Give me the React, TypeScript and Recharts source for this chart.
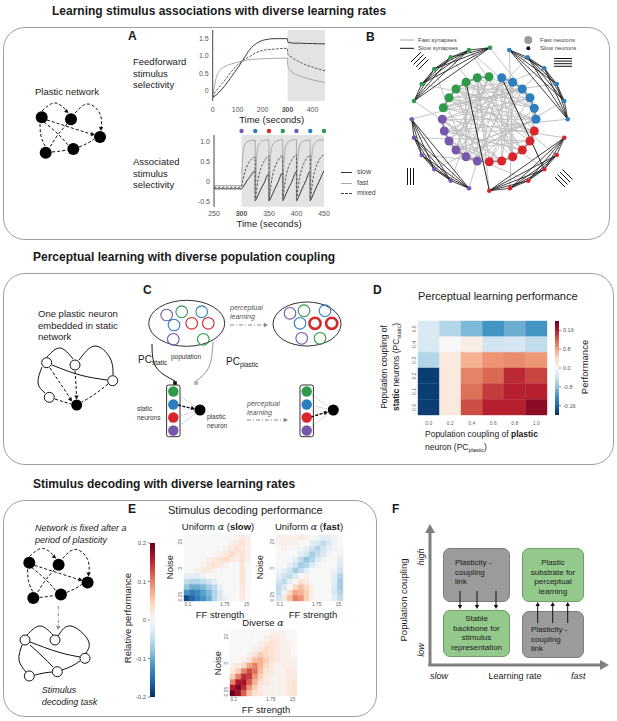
import React from 'react';
import {
  LineChart,
  Line,
  XAxis,
  YAxis,
  ReferenceArea,
  ReferenceDot,
  ReferenceLine,
  ComposedChart,
  Scatter,
} from 'recharts';

const FONT = '"Liberation Sans", Arial, Helvetica, sans-serif';

// ---- Panel A (top): feedforward stimulus selectivity ----
const ffTime = [0, 10, 25, 50, 75, 100, 120, 150, 175, 200, 250, 299, 301, 310, 325, 350, 375, 400, 425, 450];
const ffSlow = [-0.2, -0.15, -0.05, 0.15, 0.4, 0.65, 0.87, 1.2, 1.36, 1.45, 1.5, 1.5, 1.4, 1.38, 1.37, 1.37, 1.36, 1.36, 1.35, 1.35];
const ffFast = [-0.2, 0.25, 0.55, 0.7, 0.77, 0.82, 0.86, 0.9, 0.91, 0.92, 0.93, 0.94, 0.72, 0.6, 0.5, 0.42, 0.36, 0.31, 0.27, 0.24];
const ffMixed = [-0.2, -0.05, 0.1, 0.31, 0.55, 0.75, 0.87, 0.99, 1.1, 1.16, 1.2, 1.22, 1.05, 1.0, 0.92, 0.82, 0.74, 0.68, 0.62, 0.57];

// ---- Panel A (bottom): associated stimulus selectivity ----
const asTime = [
  250, 275,
  300, 302, 305, 310, 316, 324.9,
  325, 327, 330, 335, 341, 349.9,
  350, 352, 355, 360, 366, 374.9,
  375, 377, 380, 385, 391, 399.9,
  400, 402, 405, 410, 416, 424.9,
  425, 427, 430, 435, 441, 450,
];
const asFast = [
  -0.1, -0.1,
  -0.1, 0.55, 0.88, 0.98, 1.01, 1.02,
  -0.47, 0.45, 0.86, 0.98, 1.02, 1.03,
  -0.48, 0.46, 0.85, 0.97, 1.01, 1.03,
  -0.47, 0.44, 0.86, 0.98, 1.02, 1.04,
  -0.48, 0.45, 0.85, 0.98, 1.01, 1.03,
  -0.47, 0.46, 0.86, 0.97, 1.02, 1.03,
];
const asMixed = [
  -0.14, -0.14,
  -0.14, 0.0, 0.18, 0.38, 0.52, 0.6,
  -0.47, -0.26, 0.04, 0.32, 0.5, 0.63,
  -0.48, -0.25, 0.05, 0.33, 0.51, 0.64,
  -0.47, -0.24, 0.06, 0.34, 0.52, 0.66,
  -0.48, -0.25, 0.05, 0.33, 0.52, 0.65,
  -0.47, -0.24, 0.06, 0.34, 0.53, 0.67,
];
const asSlow = [
  -0.18, -0.18,
  -0.18, -0.15, -0.09, 0.02, 0.13, 0.27,
  -0.47, -0.43, -0.34, -0.19, -0.04, 0.2,
  -0.48, -0.44, -0.35, -0.2, -0.03, 0.22,
  -0.47, -0.43, -0.33, -0.18, -0.02, 0.24,
  -0.48, -0.44, -0.34, -0.18, -0.01, 0.25,
  -0.47, -0.43, -0.33, -0.17, 0.0, 0.27,
];
const stimOnsets = [300, 325, 350, 375, 400, 425, 450];
const stimGroups = ['purple', 'blue', 'red', 'green', 'purple', 'blue', 'green'];

// ---- Panel D: perceptual learning performance (rows: PC_static 0.5 -> 0.0) ----
const pcPlasticLabels = ['0.0', '0.2', '0.4', '0.6', '0.8', '1.0'];
const pcStaticLabels = ['0.0', '0.1', '0.2', '0.3', '0.4', '0.5'];
const perfGrid = [
  [-0.03, -0.06, -0.09, -0.12, -0.1, -0.12],
  [-0.03, 0.0, 0.015, -0.04, -0.035, -0.05],
  [-0.06, 0.02, 0.07, 0.09, 0.095, 0.088],
  [-0.19, 0.02, 0.1, 0.115, 0.15, 0.135],
  [-0.19, 0.02, 0.11, 0.14, 0.155, 0.155],
  [-0.19, 0.02, 0.13, 0.155, 0.155, 0.18],
];
const perfTicks = [0.16, 0.08, 0, -0.08, -0.16];
const perfTickLabels = ['0.16', '0.8', '0.0', '-0.8', '-0.16'];

// ---- Panel E: relative decoding performance (rows: noise 20 -> 0.25, cols: FF 0.1 -> 15) ----
const decodeSlow = [
  [0, 0, 0, 0, 0, 0, 0, 0, 0, 0.01, 0.02, 0.01],
  [0, 0, 0, 0, 0, 0, 0, 0, 0.01, 0.02, 0.03, 0.01],
  [0, 0, 0, 0, 0, 0, 0, 0.01, 0.02, 0.03, 0.02, 0.01],
  [0, 0, 0, 0, 0, 0, 0.01, 0.02, 0.04, 0.02, 0.03, 0.01],
  [0, 0, 0, 0, 0.01, 0.02, 0.03, 0.04, 0.02, 0.01, 0.03, 0.01],
  [0, 0, 0, 0.01, 0.02, 0.03, 0.02, 0.01, 0, 0, 0.03, 0],
  [0, 0, 0.01, 0.02, 0.02, 0.01, 0, 0, 0, 0, 0.03, 0],
  [-0.02, -0.02, -0.02, -0.01, 0, 0, 0, 0, 0, 0, 0.03, 0],
  [-0.05, -0.06, -0.06, -0.05, -0.04, -0.02, 0, 0, 0, 0, 0.03, 0],
  [-0.08, -0.1, -0.1, -0.09, -0.07, -0.05, -0.02, 0, 0, 0, 0.02, 0],
  [-0.12, -0.14, -0.13, -0.11, -0.09, -0.06, -0.03, 0, 0, 0, 0.02, 0],
  [-0.18, -0.16, -0.14, -0.12, -0.1, -0.06, -0.03, -0.01, 0, 0, 0.02, 0],
];
const decodeFast = [
  [0.01, 0.01, 0.01, 0.01, 0.02, 0.01, 0, -0.01, -0.02, -0.02, -0.01, 0],
  [0.01, 0.01, 0.01, 0.01, 0, 0, -0.02, -0.03, -0.05, -0.03, -0.01, 0],
  [0, 0.01, 0, 0, 0, -0.02, -0.04, -0.06, -0.04, -0.02, -0.01, 0],
  [0, 0, 0, 0, -0.02, -0.04, -0.07, -0.05, -0.03, -0.01, 0, -0.01],
  [0, 0, 0, -0.02, -0.05, -0.08, -0.06, -0.03, -0.01, 0, 0, -0.02],
  [0, 0, -0.02, -0.04, -0.07, -0.06, -0.03, -0.01, 0, 0, 0, -0.03],
  [-0.01, -0.02, -0.04, -0.07, -0.05, -0.02, 0, 0, 0, 0, -0.01, -0.04],
  [-0.02, -0.04, -0.05, -0.03, 0, 0.01, 0, 0, 0, 0, -0.02, -0.06],
  [-0.04, -0.05, -0.02, 0, 0.03, 0.02, 0, 0, 0, 0, -0.02, -0.07],
  [-0.05, -0.03, 0, 0.04, 0.06, 0.04, 0.01, 0, 0, 0, -0.03, -0.07],
  [-0.05, -0.01, 0.04, 0.08, 0.07, 0.05, 0.01, 0, 0, 0, -0.03, -0.06],
  [-0.04, 0.02, 0.06, 0.1, 0.09, 0.05, 0.01, 0, 0, 0, -0.02, -0.05],
];
const decodeDiverse = [
  [0, 0, 0, 0, 0, 0, 0, 0.01, 0.01, 0.01, 0, 0],
  [0, 0, 0, 0, 0, 0, 0.01, 0.02, 0.02, 0.01, 0, 0],
  [0, 0, 0, 0, 0, 0.01, 0.02, 0.03, 0.02, 0.01, 0.01, 0],
  [0, 0, 0, 0, 0.01, 0.02, 0.04, 0.03, 0.02, 0.01, 0.01, 0],
  [0, 0, 0, 0.01, 0.03, 0.05, 0.04, 0.03, 0.02, 0.01, 0.01, 0],
  [0, 0, 0.01, 0.03, 0.06, 0.07, 0.05, 0.03, 0.02, 0.01, 0.01, 0.01],
  [0.01, 0.02, 0.04, 0.08, 0.1, 0.07, 0.04, 0.02, 0.01, 0.01, 0.01, 0.01],
  [0.02, 0.05, 0.1, 0.13, 0.11, 0.06, 0.03, 0.02, 0.01, 0.01, 0.02, 0.02],
  [0.05, 0.1, 0.15, 0.14, 0.09, 0.05, 0.02, 0.01, 0.01, 0.01, 0.02, 0.02],
  [0.1, 0.16, 0.17, 0.12, 0.07, 0.03, 0.02, 0.01, 0.01, 0.01, 0.02, 0.03],
  [0.16, 0.19, 0.15, 0.09, 0.05, 0.02, 0.01, 0.01, 0.01, 0.01, 0.02, 0.03],
  [0.2, 0.17, 0.12, 0.06, 0.03, 0.02, 0.01, 0.01, 0.01, 0.01, 0.02, 0.03],
];
const ffTicks = [0.7, 7.3, 11.2];
const ffLabels = ['0.1', '1.75', '15'];
const noiseTicks = [0.8, 5.95, 10.8];
const noiseLabels = ['0.25', '3', '20'];
const relTicks = [0.2, 0.1, 0, -0.1, -0.2];
const relLabels = ['0.2', '0.1', '0', '-0.1', '-0.2'];

// ---- Schematic layouts (page pixels) ----
const netA: [number, number][] = [[41.7, 117.3], [71, 119.3], [100, 137], [45.7, 152.7], [73.3, 149]];
const netAEdges: [number, number][][] = [
  [[42, 111], [55, 103], [68, 112]],
  [[75, 113], [88, 104], [100, 114], [101, 130]],
  [[47, 120], [72, 128], [94, 135]],
  [[44, 122], [58, 134], [68, 145]],
  [[40, 124], [41, 136], [45, 146]],
  [[67, 124], [57, 136], [50, 147]],
  [[52, 152], [61, 151], [67, 150]],
  [[79, 147], [88, 143], [94, 139]],
];
const netC: [number, number][] = [[46.7, 362.7], [75, 365], [112.7, 380.7], [49.3, 397.3]];
const netCPlastic: [number, number] = [76.7, 405];
const netCSolid: [number, number][][] = [
  [[47, 357], [60, 348], [73, 359]],
  [[79, 360], [95, 346], [110, 358], [113, 375]],
  [[52, 365], [80, 375], [107, 380]],
  [[42, 367], [38, 383], [45, 393]],
];
const netCDashed: [number, number][][] = [
  [[50, 368], [62, 386], [72, 401]],
  [[75, 371], [76, 385], [76.5, 399]],
  [[108, 384], [95, 394], [82, 402]],
  [[55, 399], [64, 402], [71, 404]],
];
const netEOpen: [number, number][] = [[25, 640], [55, 640], [85, 658.3], [29.3, 676], [57.3, 671.7]];
const netEOpenEdges: [number, number][][] = [
  [[27, 635], [40, 626], [53, 635]],
  [[58, 636], [71, 626], [88, 640], [86, 653]],
  [[30, 645], [42, 656], [53, 667]],
  [[22, 645], [19, 660], [26, 672]],
  [[35, 675], [44, 673], [52, 672]],
  [[62, 670], [72, 666], [80, 661]],
  [[30, 642], [58, 652], [80, 657]],
];
const eShift: [number, number] = [-12.4, 445.4];

// network B
const groupColor: Record<string, string> = { green: '#2e9b4b', blue: '#2b7fc0', red: '#d8262b', purple: '#7858ad' };
const bOuter: Record<string, [number, number][]> = {
  green: [[490, 47.7], [469, 50], [450.7, 57.3], [434.3, 69], [421.7, 84], [414, 101]],
  blue: [[509.3, 50], [527.7, 57.3], [544.3, 68.3], [556.7, 84], [564.3, 101], [567.7, 119.3]],
  red: [[564.3, 137.7], [556.7, 155], [544.3, 169.3], [528.3, 180.7], [510, 188.3], [489.3, 190.7]],
  purple: [[411.7, 119.3], [414, 137.7], [421.7, 155], [434.3, 169.3], [450.7, 180.7], [469, 188.3]],
};
const bInner: Record<string, [number, number][]> = {
  green: [[489, 76.7], [477.3, 77.7], [466, 82.3], [456, 89], [449, 97.7], [443.3, 107.7]],
  blue: [[501.7, 77.7], [512.7, 82.3], [522.3, 89], [530, 97.7], [534.3, 108.3], [536, 119.3]],
  red: [[534.3, 131], [530, 141], [522.3, 150], [512.7, 156.7], [501.7, 161], [489.3, 161.7]],
  purple: [[442.3, 119.3], [444.3, 131], [449, 141], [456, 150], [466, 156.7], [477.3, 161]],
};
const bGrayEdges = (
  'g0-r3 g1-p5 g2-b4 g3-r1 g4-b3 g5-r0 g5-b5 g1-r5 g0-p3 g3-b1 b0-p4 b1-p2 b2-r5 b3-p0 b4-p5 b5-g4 b2-g5 b1-r4 ' +
  'r0-p1 r1-p3 r2-g3 r3-g1 r4-p0 r5-b3 p0-b2 p1-r2 p2-g0 p3-b5 p4-g2 p5-b1 G0-b2 G2-r2 G4-b4 B1-p2 B3-g4 B5-p1 ' +
  'R1-g2 R3-p3 R5-g1 P1-r1 P3-b5 P5-b0 G5-r4 B4-p4 G1-r1 B2-p3 g0-b3 g1-r2 g2-p4 g3-b5 g4-r3 g5-b2 b0-r4 b1-p5 ' +
  'b2-g3 b3-r0 b4-g1 b5-p3 r0-g4 r1-b4 r2-p1 r3-b0 r4-g5 r5-p2 p0-r5 p1-b3 p2-r4 p3-g1 p4-b0 p5-g3 G1-b4 G3-p4 ' +
  'B0-r3 B2-g5 R0-p0 R2-g4 R4-b1 P0-b2 P2-r5 P4-g0 g0-r0 b5-p0'
).split(' ');
const bBlackLong = 'g2-R5 b0-R2'.split(' ');
const groupKey: Record<string, string> = { g: 'green', b: 'blue', r: 'red', p: 'purple' };

// panel C
const popA: Record<string, [number, number][]> = {
  purple: [[166.7, 315], [173.3, 339.3]],
  green: [[181.7, 311.7], [203.3, 339.3]],
  blue: [[201.7, 311.7], [174, 325]],
  red: [[191.7, 323.3], [208.3, 323.3]],
};
const popB: Record<string, [number, number][]> = {
  purple: [[290, 313.3], [301.7, 338.3]],
  green: [[304, 310.7], [320, 338.3]],
  blue: [[325, 310.7], [300, 323.3]],
  red: [[315, 323.3], [331.7, 323.3]],
};
const staticOrder = ['green', 'blue', 'red', 'purple'];
const staticY = [391.5, 404.5, 417.5, 430.5];
const columnsX = [173.3, 306.7];
const plasticNeurons: [number, number][] = [[200, 410], [333.3, 410]];

// ---- colour map ----
const RDBU = ['#053061', '#2166ac', '#4393c3', '#92c5de', '#d1e5f0', '#f7f7f7', '#fddbc7', '#f4a582', '#d6604d', '#b2182b', '#67001f'];
function hex(h: string) {
  return [1, 3, 5].map((i) => parseInt(h.slice(i, i + 2), 16));
}
function rdbu(v: number, vmax: number) {
  const t = Math.max(0, Math.min(1, (v / vmax + 1) / 2)) * 10;
  const i = Math.min(9, Math.floor(t));
  const f = t - i;
  const a = hex(RDBU[i]);
  const b = hex(RDBU[i + 1]);
  const c = a.map((x, k) => Math.round(x + (b[k] - x) * f));
  return `rgb(${c[0]},${c[1]},${c[2]})`;
}

// ---- text helper ----
type TP = {
  x: number;
  y: number;
  s?: number;
  b?: boolean;
  i?: boolean;
  c?: string;
  a?: 'l' | 'c' | 'r';
  r?: number;
  lh?: number;
  children: React.ReactNode;
};
function T({ x, y, s = 10, b, i, c = '#1a1a1a', a = 'l', r, lh, children }: TP) {
  const tx = r ? '-50%' : a === 'c' ? '-50%' : a === 'r' ? '-100%' : '0';
  return (
    <div
      style={{
        position: 'absolute',
        left: x,
        top: y,
        fontSize: s,
        fontWeight: b ? 700 : 400,
        fontStyle: i ? 'italic' : 'normal',
        color: c,
        whiteSpace: 'nowrap',
        lineHeight: lh ? `${lh}px` : 1.15,
        textAlign: r || a === 'c' ? 'center' : a === 'r' ? 'right' : 'left',
        transform: `translate(${tx}, -50%)` + (r ? ` rotate(${r}deg)` : ''),
      }}
    >
      {children}
    </div>
  );
}

const Alpha = () => <span style={{ fontStyle: 'italic', fontFamily: '"DejaVu Serif", serif' }}>α</span>;

// ---- Panel A charts ----
const ffData = ffTime.map((t, i) => ({ t, slow: ffSlow[i], fast: ffFast[i], mixed: ffMixed[i] }));
const asData = asTime.map((t, i) => ({ t, slow: asSlow[i], fast: asFast[i], mixed: asMixed[i] }));

const timeTick = (dy: number) => (props: any) => {
  const { x, y, payload } = props;
  return (
    <text x={x} y={y} dy={dy} textAnchor="middle" fontSize={7} fill="#555" fontWeight={payload.value === 300 ? 700 : 400}>
      {payload.value}
    </text>
  );
};

function SelectivityLines() {
  return [
    <Line key="s" dataKey="slow" type="monotone" stroke="#3a3a3a" strokeWidth={1} dot={false} isAnimationActive={false} />,
    <Line key="f" dataKey="fast" type="monotone" stroke="#a8a8a8" strokeWidth={1} dot={false} isAnimationActive={false} />,
    <Line key="m" dataKey="mixed" type="monotone" stroke="#555" strokeWidth={1} strokeDasharray="2.5 1.5" dot={false} isAnimationActive={false} />,
  ];
}

function FeedforwardChart() {
  return (
    <LineChart width={140} height={100} data={ffData} margin={{ top: 5, right: 5, bottom: 0, left: 0 }}>
      <ReferenceArea x1={300} x2={450} y1={-0.3} y2={1.75} fill="#e3e3e3" fillOpacity={1} />
      <XAxis dataKey="t" type="number" domain={[0, 450]} ticks={[0, 100, 200, 300, 400]} interval={0} tick={timeTick(8.5)} axisLine={false} tickLine={false} tickSize={0} height={24} allowDataOverflow />
      <YAxis type="number" domain={[-0.3, 1.75]} ticks={[0, 0.5, 1, 1.5]} interval={0} tickFormatter={(v: number) => (v === 0 ? '0' : v.toFixed(1))} tick={{ fontSize: 7, fill: '#555' }} axisLine={{ stroke: '#444' }} tickLine={false} tickSize={0} tickMargin={4} width={22.7} allowDataOverflow />
      {SelectivityLines()}
    </LineChart>
  );
}

function AssociatedChart() {
  return (
    <LineChart width={140} height={90.7} data={asData} margin={{ top: 7, right: 6, bottom: 0, left: 0 }}>
      <ReferenceArea x1={300} x2={450} y1={-0.62} y2={1.15} fill="#e3e3e3" fillOpacity={1} />
      <XAxis dataKey="t" type="number" domain={[250, 450]} ticks={[250, 300, 350, 400, 450]} interval={0} tick={timeTick(7.3)} axisLine={false} tickLine={false} tickSize={0} height={12} allowDataOverflow />
      <YAxis type="number" domain={[-0.62, 1.15]} ticks={[-0.5, 0, 0.5, 1]} interval={0} tickFormatter={(v: number) => (v === 0 ? '0' : v.toFixed(1))} tick={{ fontSize: 7, fill: '#555' }} axisLine={{ stroke: '#444' }} tickLine={false} tickSize={0} tickMargin={4} width={24} allowDataOverflow />
      {SelectivityLines()}
      {stimOnsets.map((t, i) => (
        <ReferenceDot key={t} x={t} y={1.25} r={2.2} fill={groupColor[stimGroups[i]]} stroke="none" ifOverflow="visible" />
      ))}
    </LineChart>
  );
}

// ---- heatmaps ----
const RotTick = (props: any) => {
  const { x, y, payload, labels, ticks, fs } = props;
  const idx = ticks.indexOf(payload.value);
  const bx = x - 2;
  return (
    <text x={bx} y={y} transform={`rotate(-90 ${bx} ${y})`} textAnchor="middle" fontSize={fs} fill="#666">
      {labels[idx]}
    </text>
  );
};

type HM = {
  grid: number[][];
  vmax: number;
  width: number;
  height: number;
  yw: number;
  xh: number;
  top: number;
  right: number;
  xTicks: number[];
  xLabels: string[];
  yTicks: number[];
  yLabels: string[];
  fs: number;
  xm: number;
};
function Heatmap({ grid, vmax, width, height, yw, xh, top, right, xTicks, xLabels, yTicks, yLabels, fs, xm }: HM) {
  const nr = grid.length;
  const nc = grid[0].length;
  return (
    <ComposedChart width={width} height={height} margin={{ top, right, bottom: 0, left: 0 }}>
      <XAxis type="number" dataKey="x" domain={[0, nc]} ticks={xTicks} interval={0} tickFormatter={(v: number) => xLabels[xTicks.indexOf(v)]} tick={{ fontSize: fs, fill: '#666' }} axisLine={false} tickLine={false} tickSize={0} tickMargin={xm} height={xh} allowDataOverflow />
      <YAxis type="number" domain={[0, nr]} ticks={yTicks} interval={0} tick={<RotTick labels={yLabels} ticks={yTicks} fs={fs} />} axisLine={false} tickLine={false} tickSize={0} tickMargin={0} width={yw} allowDataOverflow />
      {grid.map((row, r) =>
        row.map((v, c) => (
          <ReferenceArea key={`${r}-${c}`} x1={c} x2={c + 1} y1={nr - r - 1} y2={nr - r} fill={rdbu(v, vmax)} fillOpacity={1} stroke={rdbu(v, vmax)} strokeWidth={0.4} />
        )),
      )}
    </ComposedChart>
  );
}

function Colorbar({ id, width, height, top, yw, side, ticks, labels, fs }: any) {
  return (
    <ComposedChart width={width} height={height} margin={{ top, right: side === 'left' ? 1 : 0, bottom: top, left: side === 'left' ? 0 : 5 }}>
      <defs>
        <linearGradient id={id} x1="0" y1="1" x2="0" y2="0">
          {RDBU.map((c, i) => (
            <stop key={i} offset={`${i * 10}%`} stopColor={c} />
          ))}
        </linearGradient>
      </defs>
      <XAxis type="number" dataKey="x" domain={[0, 1]} hide allowDataOverflow />
      <YAxis type="number" orientation={side} domain={[-0.2, 0.2]} ticks={ticks} interval={0} tickFormatter={(v: number) => labels[ticks.indexOf(v)]} tick={{ fontSize: fs, fill: '#555' }} axisLine={false} tickLine={{ stroke: '#888' }} tickSize={2} tickMargin={2} width={yw} allowDataOverflow />
      <ReferenceArea x1={0} x2={1} y1={-0.2} y2={0.2} fill={`url(#${id})`} fillOpacity={1} />
    </ComposedChart>
  );
}

// ---- schematic overlay ----
const pts = (a: [number, number][], s: [number, number] = [0, 0]) => a.map(([x, y]) => ({ x: x + s[0], y: y + s[1] }));

const circleShape = (fill: string, stroke: string, r: number, sw = 1) => (p: any) => (
  <circle cx={p.cx} cy={p.cy} r={r} fill={fill} stroke={stroke} strokeWidth={sw} />
);
const arrowShape = (color: string, size: number) => (p: any) => {
  const { cx, cy, payload } = p;
  return (
    <polygon
      points={`${cx},${cy} ${cx - size},${cy - size * 0.55} ${cx - size},${cy + size * 0.55}`}
      fill={color}
      transform={`rotate(${payload.a} ${cx} ${cy})`}
    />
  );
};
const ellipseShape = (p: any) => (
  <ellipse cx={p.cx} cy={p.cy} rx={p.payload.rx} ry={p.payload.ry} fill="#fff" stroke="#333" strokeWidth={1} />
);
const squareShape = (color: string) => (p: any) => <rect x={p.cx - 1.8} y={p.cy - 1.8} width={3.6} height={3.6} fill={color} />;

function curve(key: string, a: { x: number; y: number }[], stroke: string, dash?: string, w = 1, type: any = 'natural') {
  return <Line key={key} data={a} dataKey="y" type={type} stroke={stroke} strokeWidth={w} strokeDasharray={dash} dot={false} activeDot={false} isAnimationActive={false} />;
}
function seg(key: string, a: [number, number], b: [number, number], stroke: string, w = 1, dash?: string) {
  return (
    <ReferenceLine key={key} segment={[{ x: a[0], y: a[1] }, { x: b[0], y: b[1] }]} stroke={stroke} strokeWidth={w} strokeDasharray={dash} />
  );
}
function bNode(id: string): [number, number] {
  const grp = groupKey[id[0].toLowerCase()];
  const idx = Number(id.slice(1));
  return id[0] === id[0].toUpperCase() ? bOuter[grp][idx] : bInner[grp][idx];
}

const arrowsNetA = [
  { x: 68.5, y: 113, a: 40 },
  { x: 101, y: 131, a: 90 },
  { x: 95, y: 135, a: 15 },
];

function Schematic() {
  const bBlackFan: React.ReactNode[] = [];
  Object.keys(bOuter).forEach((g) => {
    const o = bOuter[g];
    for (let i = 0; i < o.length; i++) for (let j = i + 1; j < o.length; j++) bBlackFan.push(seg(`bf-${g}-${i}-${j}`, o[i], o[j], '#111', 0.8));
  });
  const bChains: React.ReactNode[] = [];
  Object.keys(bInner).forEach((g) => {
    const o = bInner[g];
    for (let i = 0; i + 1 < o.length; i++) bChains.push(seg(`bc-${g}-${i}`, o[i], o[i + 1], '#9a9a9a', 2));
  });
  const arrowsBlackAll = [
    ...arrowsNetA,
    ...arrowsNetA.map((p) => ({ x: p.x + eShift[0], y: p.y + eShift[1], a: p.a })),
    { x: 72, y: 401.5, a: 55 },
    { x: 76.5, y: 399.5, a: 90 },
    { x: 195, y: 409, a: 15 },
    { x: 328, y: 412, a: -15 },
    { x: 460, y: 609, a: 90 },
    { x: 477, y: 609, a: 90 },
    { x: 496, y: 609, a: 90 },
    { x: 537.7, y: 602, a: -90 },
    { x: 552.7, y: 602, a: -90 },
    { x: 567.7, y: 602, a: -90 },
  ];
  const arrowsGray = [
    { x: 268, y: 325, a: 0 },
    { x: 288, y: 420, a: 0 },
    { x: 58.3, y: 630, a: 90 },
  ];
  const arrowsAxis = [
    { x: 430, y: 524, a: -90 },
    { x: 609, y: 665, a: 0 },
  ];
  return (
    <ComposedChart width={617} height={721} margin={{ top: 0, right: 0, bottom: 0, left: 0 }} style={{ position: 'absolute', left: 0, top: 0 }}>
      <XAxis type="number" dataKey="x" domain={[0, 617]} hide allowDataOverflow />
      <YAxis type="number" dataKey="y" domain={[0, 721]} reversed hide allowDataOverflow />

      {/* network B */}
      {bGrayEdges.map((e) => {
        const [a, b] = e.split('-');
        return seg(`bg-${e}`, bNode(a), bNode(b), '#bdbdbd', 0.9);
      })}
      {bChains}
      {bBlackFan}
      {bBlackLong.map((e) => {
        const [a, b] = e.split('-');
        return seg(`bl-${e}`, bNode(a), bNode(b), '#222', 1);
      })}
      {seg('lg1', [400, 40], [414, 40], '#aaa', 1)}
      {seg('lg2', [400, 48.3], [414, 48.3], '#111', 1)}
      {[0, 1, 2, 3].map((k) => seg(`tl${k}`, [411 + 2.5 * k, 62 + 2.5 * k], [421 + 2.5 * k, 52 + 2.5 * k], '#111', 1))}
      {[0, 1, 2, 3].map((k) => seg(`tr${k}`, [554, 58.5 + 2.6 * k], [572, 58.5 + 2.6 * k], '#111', 1))}
      {[0, 1, 2].map((k) => seg(`bl${k}`, [407.5 + 3 * k, 168], [407.5 + 3 * k, 185], '#111', 1))}
      {[0, 1, 2, 3].map((k) => seg(`br${k}`, [555 + 2.5 * k, 177 - 2.5 * k], [565 + 2.5 * k, 187 - 2.5 * k], '#111', 1))}
      {Object.keys(bOuter).map((g) => (
        <Scatter key={`bo-${g}`} data={pts(bOuter[g])} shape={circleShape(groupColor[g], 'none', 2.3)} isAnimationActive={false} />
      ))}
      {Object.keys(bInner).map((g) => (
        <Scatter key={`bi-${g}`} data={pts(bInner[g])} shape={circleShape(groupColor[g], 'none', 4.5)} isAnimationActive={false} />
      ))}
      <Scatter data={pts([[528.3, 40]])} shape={circleShape('#9a9a9a', 'none', 4)} isAnimationActive={false} />
      <Scatter data={pts([[528.3, 48.3]])} shape={circleShape('#111', 'none', 2)} isAnimationActive={false} />

      {/* network A and E (plastic, filled) */}
      {netAEdges.map((e, i) => curve(`na${i}`, pts(e), '#111', '3 2'))}
      {netAEdges.map((e, i) => curve(`ne${i}`, pts(e, eShift), '#111', '3 2'))}
      <Scatter data={pts(netA)} shape={circleShape('#000', 'none', 6)} isAnimationActive={false} />
      <Scatter data={pts(netA, eShift)} shape={circleShape('#000', 'none', 6)} isAnimationActive={false} />

      {/* network C (static with one plastic neuron) */}
      {netCSolid.map((e, i) => curve(`cs${i}`, pts(e), '#111'))}
      {netCDashed.map((e, i) => curve(`cd${i}`, pts(e), '#111', '3 2'))}
      <Scatter data={pts(netC)} shape={circleShape('#fff', '#111', 5, 1)} isAnimationActive={false} />
      <Scatter data={pts([netCPlastic])} shape={circleShape('#000', 'none', 5.5)} isAnimationActive={false} />

      {/* network E (fixed) */}
      {netEOpenEdges.map((e, i) => curve(`eo${i}`, pts(e), '#111'))}
      {curve('edown', pts([[58.3, 606], [58.3, 627]]), '#888', '3 1.5 1 1.5', 1, 'linear')}
      <Scatter data={pts(netEOpen)} shape={circleShape('#fff', '#111', 5, 1)} isAnimationActive={false} />

      {/* panel C */}
      {curve('pcs', pts([[152, 344], [156, 367], [175, 381]]), '#111', undefined, 1)}
      {curve('pcp', pts([[213, 342], [209, 367], [196, 381]]), '#9a9a9a', undefined, 1)}
      <Scatter data={pts([[175, 383]])} shape={squareShape('#111')} isAnimationActive={false} />
      <Scatter data={pts([[196, 383]])} shape={squareShape('#aaa')} isAnimationActive={false} />
      <Scatter data={[{ x: 186.7, y: 323.3, rx: 38, ry: 23 }, { x: 307, y: 324, rx: 34, ry: 22 }]} shape={ellipseShape} isAnimationActive={false} />
      {Object.keys(popA).map((g) => (
        <Scatter key={`pa-${g}`} data={pts(popA[g])} shape={circleShape('none', groupColor[g], 5.8, 1.1)} isAnimationActive={false} />
      ))}
      {Object.keys(popB).map((g) => (
        <Scatter key={`pb-${g}`} data={pts(popB[g])} shape={circleShape('none', groupColor[g], g === 'red' ? 5.6 : 5.8, g === 'red' ? 2.6 : 1.1)} isAnimationActive={false} />
      ))}
      {curve('pl1', pts([[230, 325], [266, 325]]), '#888', '4 2 1 2', 1, 'linear')}
      {curve('pl2', pts([[247, 420], [286, 420]]), '#888', '4 2 1 2', 1, 'linear')}
      {columnsX.map((cx, k) => (
        <ReferenceArea key={`col${k}`} x1={cx - 6.7} x2={cx + 6.7} y1={385} y2={436.7} fill="#fff" fillOpacity={1} stroke="#333" strokeWidth={1} radius={2} />
      ))}
      {columnsX.map((cx, k) =>
        staticY.map((y, i) => seg(`dl${k}-${i}`, [cx, y], plasticNeurons[k], '#9a9a9a', 0.8, '1 1.2')),
      )}
      {curve('ar1', pts([[178, 405], [194, 409]]), '#111', '3 1.5', 1.4, 'linear')}
      {curve('ar2', pts([[311, 417], [327, 412]]), '#111', '3 1.5', 1.4, 'linear')}
      {staticOrder.map((g, i) => (
        <Scatter key={`st-${g}`} data={columnsX.map((x) => ({ x, y: staticY[i] }))} shape={circleShape(groupColor[g], 'none', 5.2)} isAnimationActive={false} />
      ))}
      <Scatter data={pts(plasticNeurons)} shape={circleShape('#000', 'none', 5.5)} isAnimationActive={false} />

      {/* panel F */}
      {seg('fy', [430, 666], [430, 528], '#7f7f7f', 3)}
      {seg('fx', [428.5, 665], [603, 665], '#7f7f7f', 3)}
      {[460, 477, 496].map((x) => seg(`fd${x}`, [x, 591], [x, 605], '#111', 1))}
      {[537.7, 552.7, 567.7].map((x) => seg(`fu${x}`, [x, 623], [x, 606], '#111', 1))}

      <Scatter data={arrowsBlackAll} shape={arrowShape('#111', 4)} isAnimationActive={false} />
      <Scatter data={arrowsGray} shape={arrowShape('#888', 4)} isAnimationActive={false} />
      <Scatter data={arrowsAxis} shape={arrowShape('#7f7f7f', 9)} isAnimationActive={false} />
    </ComposedChart>
  );
}

const boxStyle = (l: number, t: number, w: number, h: number, r = 22): React.CSSProperties => ({
  position: 'absolute',
  left: l,
  top: t,
  width: w,
  height: h,
  border: '1px solid #a0a0a0',
  borderRadius: r,
  boxSizing: 'border-box',
});
const fBox = (l: number, t: number, w: number, h: number, green: boolean): React.CSSProperties => ({
  position: 'absolute',
  left: l,
  top: t,
  width: w,
  height: h,
  background: green ? '#93c98b' : '#9b9b9b',
  border: `1px solid ${green ? '#6f9e68' : '#7d7d7d'}`,
  borderRadius: 7,
  boxSizing: 'border-box',
});
const abs = (l: number, t: number): React.CSSProperties => ({ position: 'absolute', left: l, top: t });
const sub = (s: string) => <sub style={{ fontSize: '0.65em', verticalAlign: '-0.3em' }}>{s}</sub>;

export default function App() {
  return (
    <div style={{ position: 'absolute', left: 0, top: 0, width: 617, height: 721, background: '#fff', fontFamily: FONT, overflow: 'hidden' }}>
      {/* frames */}
      <div style={boxStyle(3, 27, 607, 213)} />
      <div style={boxStyle(3, 273, 611, 192)} />
      <div style={boxStyle(3, 500, 374, 217)} />
      <div style={fBox(443, 548, 67, 54, false)} />
      <div style={fBox(522, 548, 62, 54, true)} />
      <div style={fBox(443, 610, 67, 47, true)} />
      <div style={fBox(522, 611, 62, 47, false)} />

      {/* charts */}
      <div style={abs(190, 25)}><FeedforwardChart /></div>
      <div style={abs(190, 128)}><AssociatedChart /></div>
      <div style={abs(395, 316)}>
        <Heatmap grid={perfGrid} vmax={0.2} width={155} height={117} yw={23} xh={18} top={5} right={3} xTicks={[0.5, 1.5, 2.5, 3.5, 4.5, 5.5]} xLabels={pcPlasticLabels} yTicks={[0.5, 1.5, 2.5, 3.5, 4.5, 5.5]} yLabels={pcStaticLabels} fs={5} xm={6} />
      </div>
      <div style={abs(550, 316)}>
        <Colorbar id="cbD" width={32} height={104} top={5} yw={23} side="right" ticks={perfTicks} labels={perfTickLabels} fs={5.5} />
      </div>
      <div style={abs(170, 530)}>
        <Heatmap grid={decodeSlow} vmax={0.2} width={84} height={80} yw={14} xh={9} top={5} right={3} xTicks={ffTicks} xLabels={ffLabels} yTicks={noiseTicks} yLabels={noiseLabels} fs={5} xm={1} />
      </div>
      <div style={abs(262, 530)}>
        <Heatmap grid={decodeFast} vmax={0.2} width={84} height={80} yw={14} xh={9} top={5} right={3} xTicks={ffTicks} xLabels={ffLabels} yTicks={noiseTicks} yLabels={noiseLabels} fs={5} xm={1} />
      </div>
      <div style={abs(216, 625)}>
        <Heatmap grid={decodeDiverse} vmax={0.2} width={84} height={80} yw={14} xh={9} top={5} right={3} xTicks={ffTicks} xLabels={ffLabels} yTicks={noiseTicks} yLabels={noiseLabels} fs={5} xm={1} />
      </div>
      <div style={abs(125, 538)}>
        <Colorbar id="cbE" width={31} height={164} top={5} yw={25} side="left" ticks={relTicks} labels={relLabels} fs={6} />
      </div>

      <Schematic />

      {/* titles */}
      <T x={52} y={12} s={12} b>Learning stimulus associations with diverse learning rates</T>
      <T x={33} y={258} s={12} b>Perceptual learning with diverse population coupling</T>
      <T x={33} y={485} s={12} b>Stimulus decoding with diverse learning rates</T>

      {/* panel A / B */}
      <T x={35} y={92} s={9.5}>Plastic network</T>
      <T x={128} y={37} s={12} b>A</T>
      <T x={133} y={74} s={9.5} lh={11.7}>Feedforward<br />stimulus<br />selectivity</T>
      <T x={133} y={174} s={9.5} lh={11.7}>Associated<br />stimulus<br />selectivity</T>
      <T x={271.7} y={119.5} s={9.5} a="c">Time (seconds)</T>
      <T x={269} y={223.5} s={9.5} a="c">Time (seconds)</T>
      <div style={{ ...abs(340.7, 172.3), width: 11, borderTop: '1px solid #333' }} />
      <div style={{ ...abs(340.7, 182.7), width: 11, borderTop: '1px solid #aaa' }} />
      <div style={{ ...abs(340.7, 193.3), width: 11, borderTop: '1px dashed #444' }} />
      <T x={357} y={172.3} s={7} c="#444">slow</T>
      <T x={357} y={182.7} s={7} c="#444">fast</T>
      <T x={357} y={193.3} s={7} c="#444">mixed</T>
      <T x={366} y={38} s={12} b>B</T>
      <T x={418} y={40} s={6} c="#444">Fast synapses</T>
      <T x={418} y={48.3} s={6} c="#444">Slow synapses</T>
      <T x={540} y={40} s={6} c="#444">Fast neurons</T>
      <T x={540} y={48.3} s={6} c="#444">Slow neurons</T>

      {/* panel C / D */}
      <T x={143} y={291} s={12} b>C</T>
      <T x={373} y={291} s={12} b>D</T>
      <T x={38} y={325} s={9.5} lh={11.5}>One plastic neuron<br />embedded in static<br />network</T>
      <T x={230} y={312} s={7} i c="#555" lh={9}>perceptual<br />learning</T>
      <T x={247} y={408} s={7} i c="#555" lh={9}>perceptual<br />learning</T>
      <T x={138} y={360} s={10}>PC{sub('static')}</T>
      <T x={171} y={357} s={6.5} c="#333">population</T>
      <T x={226} y={362} s={10}>PC{sub('plastic')}</T>
      <T x={137} y={413} s={6.5} c="#333" lh={9}>static<br />neurons</T>
      <T x={207} y={421} s={6.5} c="#333" lh={9}>plastic<br />neuron</T>
      <T x={418} y={296} s={11}>Perceptual learning performance</T>
      <T x={385} y={367} s={8.5} r={-90}>Population coupling of</T>
      <T x={397} y={367} s={8.5} r={-90}><b>static</b> neurons (PC{sub('static')})</T>
      <T x={425} y={435} s={8.5}>Population coupling of <b>plastic</b></T>
      <T x={425} y={448} s={8.5}>neuron (PC{sub('plastic')})</T>
      <T x={585} y={367} s={9.5} r={-90}>Performance</T>

      {/* panel E */}
      <T x={128} y={510} s={12} b>E</T>
      <T x={168} y={510} s={11}>Stimulus decoding performance</T>
      <T x={35} y={534} s={9} i lh={11.5}>Network is fixed after a<br />period of plasticity</T>
      <T x={41.7} y={696} s={9} i lh={12}>Stimulus<br />decoding task</T>
      <T x={128} y={618} s={9.5} r={-90}>Relative performance</T>
      <T x={218} y={527} s={9.5} a="c">Uniform <Alpha /> (<b>slow</b>)</T>
      <T x={309} y={527} s={9.5} a="c">Uniform <Alpha /> (<b>fast</b>)</T>
      <T x={263} y={623} s={9.5} a="c">Diverse <Alpha /></T>
      <T x={170} y={567} s={9.5} r={-90}>Noise</T>
      <T x={260} y={567} s={9.5} r={-90}>Noise</T>
      <T x={218} y={663} s={9.5} r={-90}>Noise</T>
      <T x={220} y={614.5} s={9.5} a="c">FF strength</T>
      <T x={313} y={614.5} s={9.5} a="c">FF strength</T>
      <T x={266} y={709.5} s={9.5} a="c">FF strength</T>

      {/* panel F */}
      <T x={392} y={510} s={12} b>F</T>
      <T x={404} y={600} s={9.5} r={-90}>Population coupling</T>
      <T x={421} y={557} s={9} i r={-90}>high</T>
      <T x={421} y={650} s={9} i r={-90}>low</T>
      <T x={430} y={676} s={9} i>slow</T>
      <T x={515} y={676} s={9} a="c">Learning rate</T>
      <T x={571} y={676} s={9} i>fast</T>
      <T x={455} y={573} s={8} lh={9.7}>Plasticity -<br />coupling<br />link</T>
      <T x={553} y={577} s={8} a="c" lh={9.7}>Plastic<br />substrate for<br />perceptual<br />learning</T>
      <T x={476.5} y={633} s={8} a="c" lh={9.7}>Stable<br />backbone for<br />stimulus<br />representation</T>
      <T x={531} y={640} s={8} lh={9.7}>Plasticity -<br />coupling<br />link</T>
    </div>
  );
}
